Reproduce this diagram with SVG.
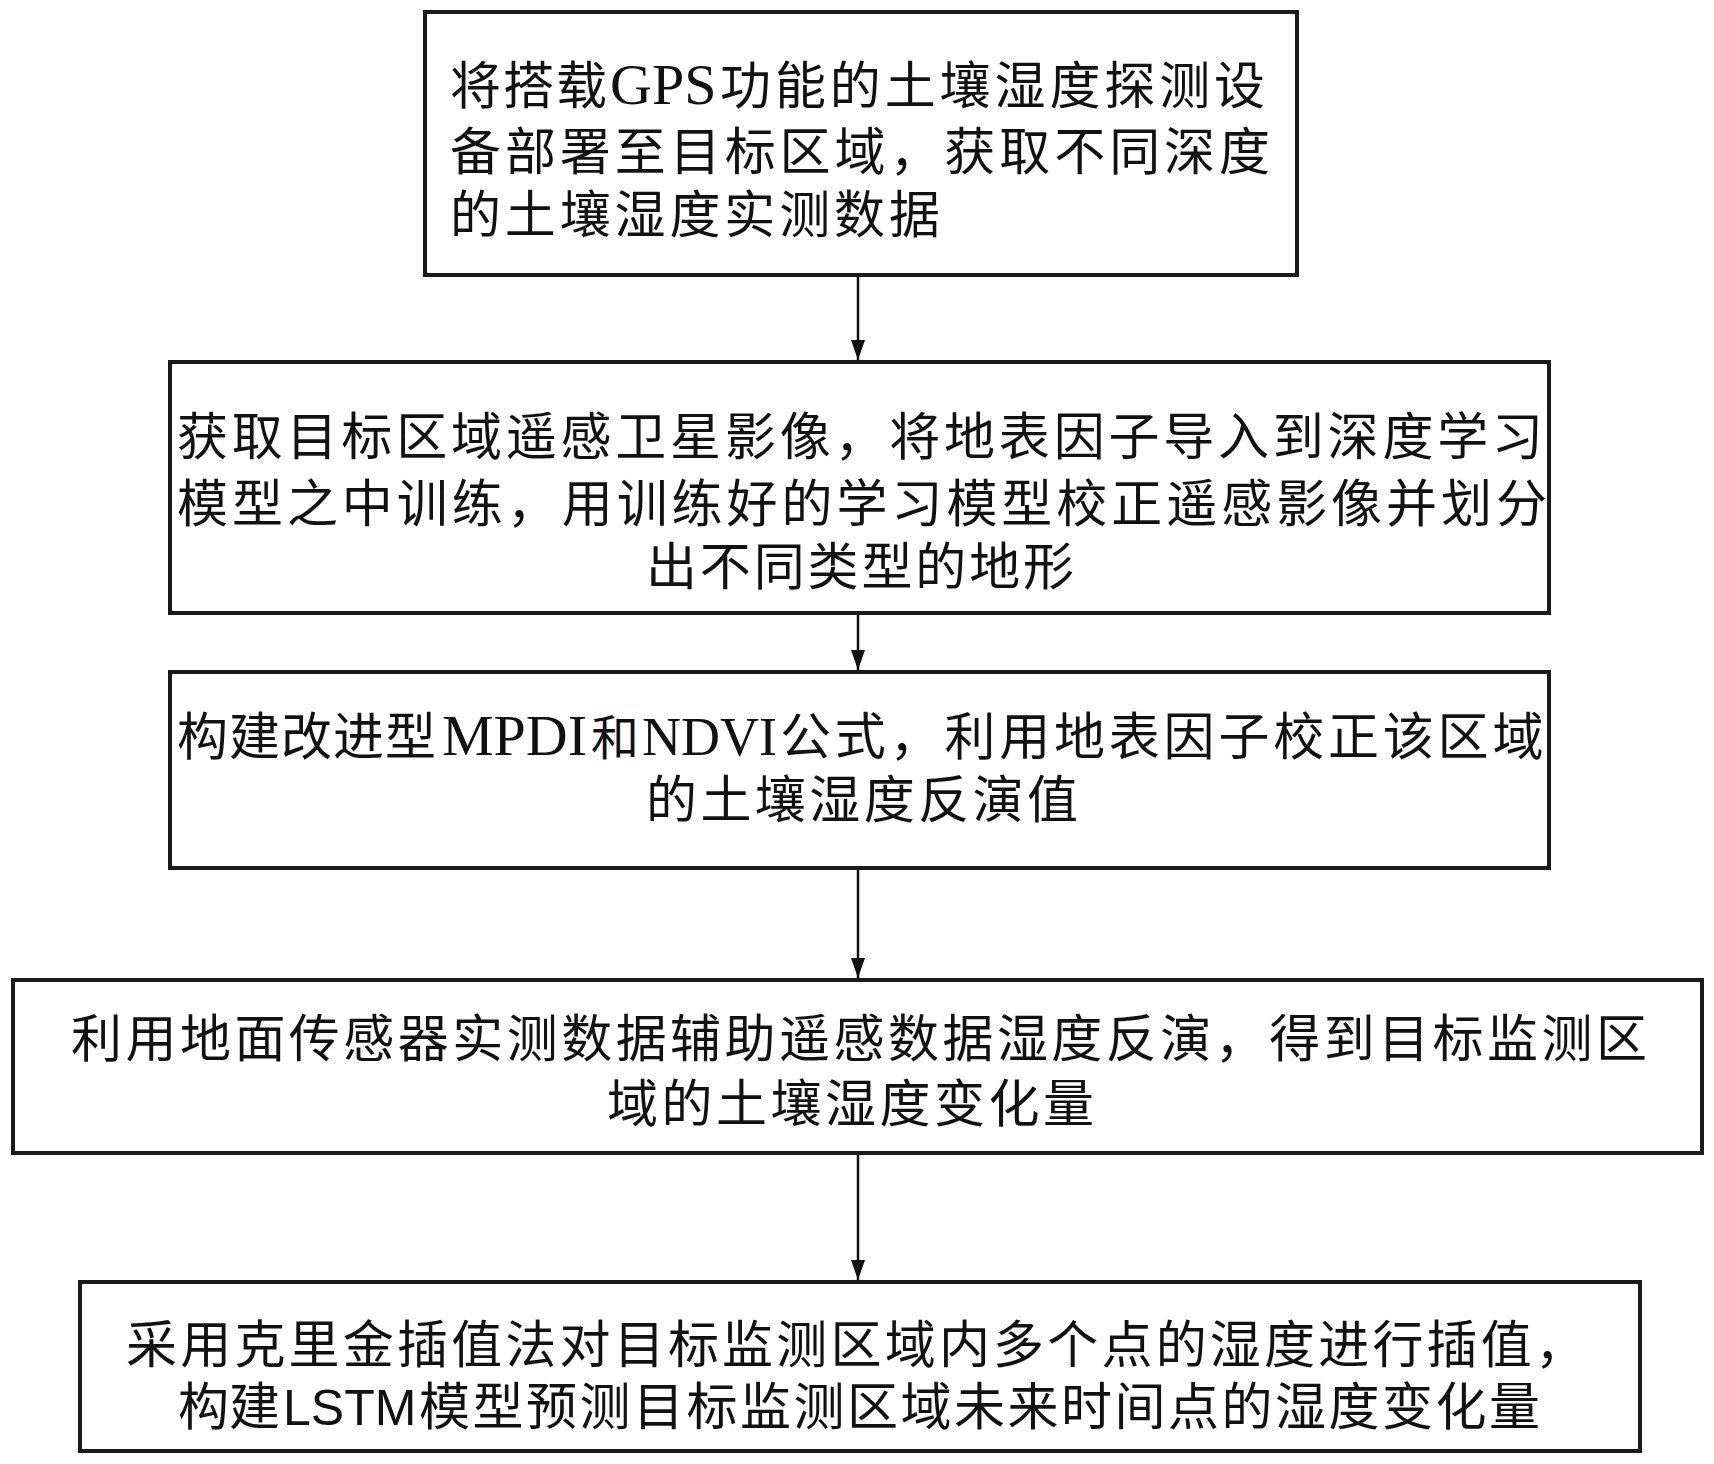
<svg xmlns="http://www.w3.org/2000/svg" width="1714" height="1464" viewBox="0 0 1714 1464">
<style>
.box{fill:#fff;stroke:#1a1a1a;stroke-width:4}
.t{font-family:"Noto Sans CJK SC","Liberation Serif",sans-serif;font-size:51px;fill:#111}
.lat{font-family:"Liberation Serif",serif}
.sans{font-family:"Liberation Sans",sans-serif}
.conn{stroke:#111;stroke-width:2.5;fill:none}
</style>
<defs>
<marker id="ah" viewBox="0 0 20 14" refX="20" refY="7" markerWidth="20" markerHeight="14" markerUnits="userSpaceOnUse" orient="auto">
<path d="M0,0 L20,7 L0,14 Z" fill="#111"/>
</marker>
</defs>
<rect width="1714" height="1464" fill="#fff"/>
<g id="connectors">
<line class="conn" x1="858" y1="275" x2="858" y2="360" marker-end="url(#ah)"/>
<line class="conn" x1="858" y1="613" x2="858" y2="670" marker-end="url(#ah)"/>
<line class="conn" x1="858" y1="868" x2="858" y2="978" marker-end="url(#ah)"/>
<line class="conn" x1="858" y1="1153" x2="858" y2="1280" marker-end="url(#ah)"/>
</g>
<g id="node1">
<rect class="box" x="425" y="12" width="872" height="263"/>
<text class="t" y="104"><tspan x="450 503 556">将搭载</tspan><tspan class="lat" x="610" style="font-size:58px">GPS</tspan><tspan x="720 774.9 829.8 884.7 939.6 994.5 1049.4 1104.3 1159.2 1214.1">功能的土壤湿度探测设</tspan></text>
<text class="t" x="450" y="170" textLength="820" lengthAdjust="spacing">备部署至目标区域，获取不同深度</text>
<text class="t" x="450" y="233" textLength="490" lengthAdjust="spacing">的土壤湿度实测数据</text>
</g>
<g id="node2">
<rect class="box" x="170" y="362" width="1379" height="251"/>
<text class="t" x="177" y="455" textLength="1366" lengthAdjust="spacing">获取目标区域遥感卫星影像，将地表因子导入到深度学习</text>
<text class="t" x="177" y="522" textLength="1370" lengthAdjust="spacing">模型之中训练，用训练好的学习模型校正遥感影像并划分</text>
<text class="t" x="646" y="585" textLength="428" lengthAdjust="spacing">出不同类型的地形</text>
</g>
<g id="node3">
<rect class="box" x="170" y="672" width="1379" height="196"/>
<text class="t" y="755"><tspan x="177 229 281 333 385">构建改进型</tspan><tspan class="lat" x="442" style="font-size:58px">MPDI</tspan><tspan x="591" style="font-size:48px">和</tspan><tspan class="lat" x="642" style="font-size:54px">NDVI</tspan><tspan x="780 834.8 889.6 944.4 999.2 1054 1108.8 1163.6 1218.4 1273.2 1328 1382.8 1437.6 1492.4">公式，利用地表因子校正该区域</tspan></text>
<text class="t" x="646" y="818" textLength="432" lengthAdjust="spacing">的土壤湿度反演值</text>
</g>
<g id="node4">
<rect class="box" x="13" y="980" width="1689" height="173"/>
<text class="t" x="71" y="1057" textLength="1576" lengthAdjust="spacing">利用地面传感器实测数据辅助遥感数据湿度反演，得到目标监测区</text>
<text class="t" x="607" y="1122" textLength="487" lengthAdjust="spacing">域的土壤湿度变化量</text>
</g>
<g id="node5">
<rect class="box" x="80" y="1282" width="1560" height="169"/>
<text class="t" x="126" y="1363" textLength="1460" lengthAdjust="spacing">采用克里金插值法对目标监测区域内多个点的湿度进行插值，</text>
<text class="t" y="1425"><tspan x="178 229">构建</tspan><tspan class="sans" x="283" style="font-size:50px">LSTM</tspan><tspan x="419 472.5 526 579.5 633 686.5 740 793.5 847 900.5 954 1007.5 1061 1114.5 1168 1221.5 1275 1328.5 1382 1435.5 1489">模型预测目标监测区域未来时间点的湿度变化量</tspan></text>
</g>
</svg>
